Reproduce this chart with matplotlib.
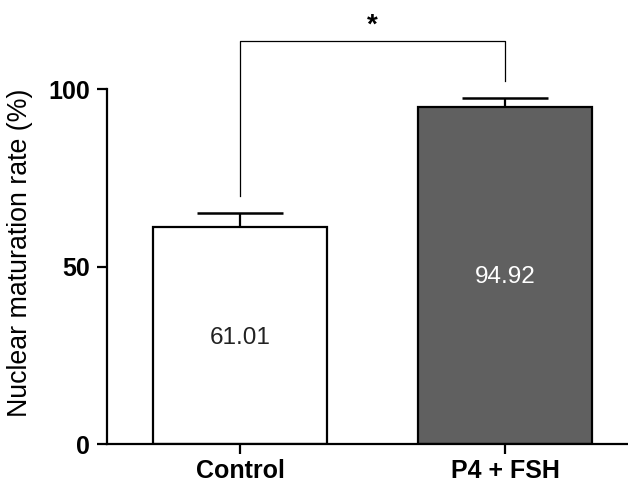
import matplotlib
matplotlib.use("Agg")
import matplotlib.pyplot as plt

# 데이터
groups = ["Control", "P4 + FSH"]
means = [61.01, 94.92]
sems = [4.1, 2.6]
bar_colors = ["white", "#606060"]
text_colors = ["#222222", "white"]

# 유의성 표시 (브래킷 높이, 왼쪽/오른쪽 다리 끝)
sig_y = 113.5
sig_left_end = 70.0
sig_right_end = 102.3
sig_label = "*"

plt.rcParams['font.family'] = ['Liberation Sans', 'DejaVu Sans']

fig = plt.figure(figsize=(6.28, 4.83), dpi=100)
ax = fig.add_axes([0.1704, 0.0807, 0.8296, 0.735])

x = list(range(len(groups)))
ax.bar(x, means, width=0.657, color=bar_colors, edgecolor="black", linewidth=1.6, zorder=2)

# 위쪽 방향 에러바만
ax.errorbar(x, means, yerr=[[0] * len(sems), sems], fmt="none", ecolor="black",
            elinewidth=1.6, capsize=31, capthick=1.8, zorder=1)

for xi, m, c in zip(x, means, text_colors):
    ax.text(xi, m / 2 - 0.5, f"{m:.2f}", ha="center", va="center", fontsize=17.5, color=c)

# 브래킷
ax.plot([0, 0, 1, 1], [sig_left_end, sig_y, sig_y, sig_right_end], color="black",
        linewidth=0.9, clip_on=False)
ax.text(0.5, sig_y + 0.8, sig_label, ha="center", va="bottom", fontsize=20,
        fontweight="bold", clip_on=False)

ax.set_xlim(-0.502, 1.464)
ax.set_ylim(0, 100)
ax.set_yticks([0, 50, 100])
ax.set_xticks(x)
ax.set_xticklabels(groups)

ax.spines["top"].set_visible(False)
ax.spines["right"].set_visible(False)
ax.spines["left"].set_linewidth(1.6)
ax.spines["bottom"].set_linewidth(1.6)
ax.tick_params(axis="both", width=1.6, length=7, labelsize=18)
ax.tick_params(axis="x", pad=3.5)
ax.tick_params(axis="y", pad=5)
for lab in ax.get_xticklabels() + ax.get_yticklabels():
    lab.set_fontweight("bold")

ax.set_ylabel("Nuclear maturation rate (%)", fontsize=19.3)
ax.yaxis.set_label_coords(-0.142, 0.538)

fig.savefig("out.png", dpi=100)
